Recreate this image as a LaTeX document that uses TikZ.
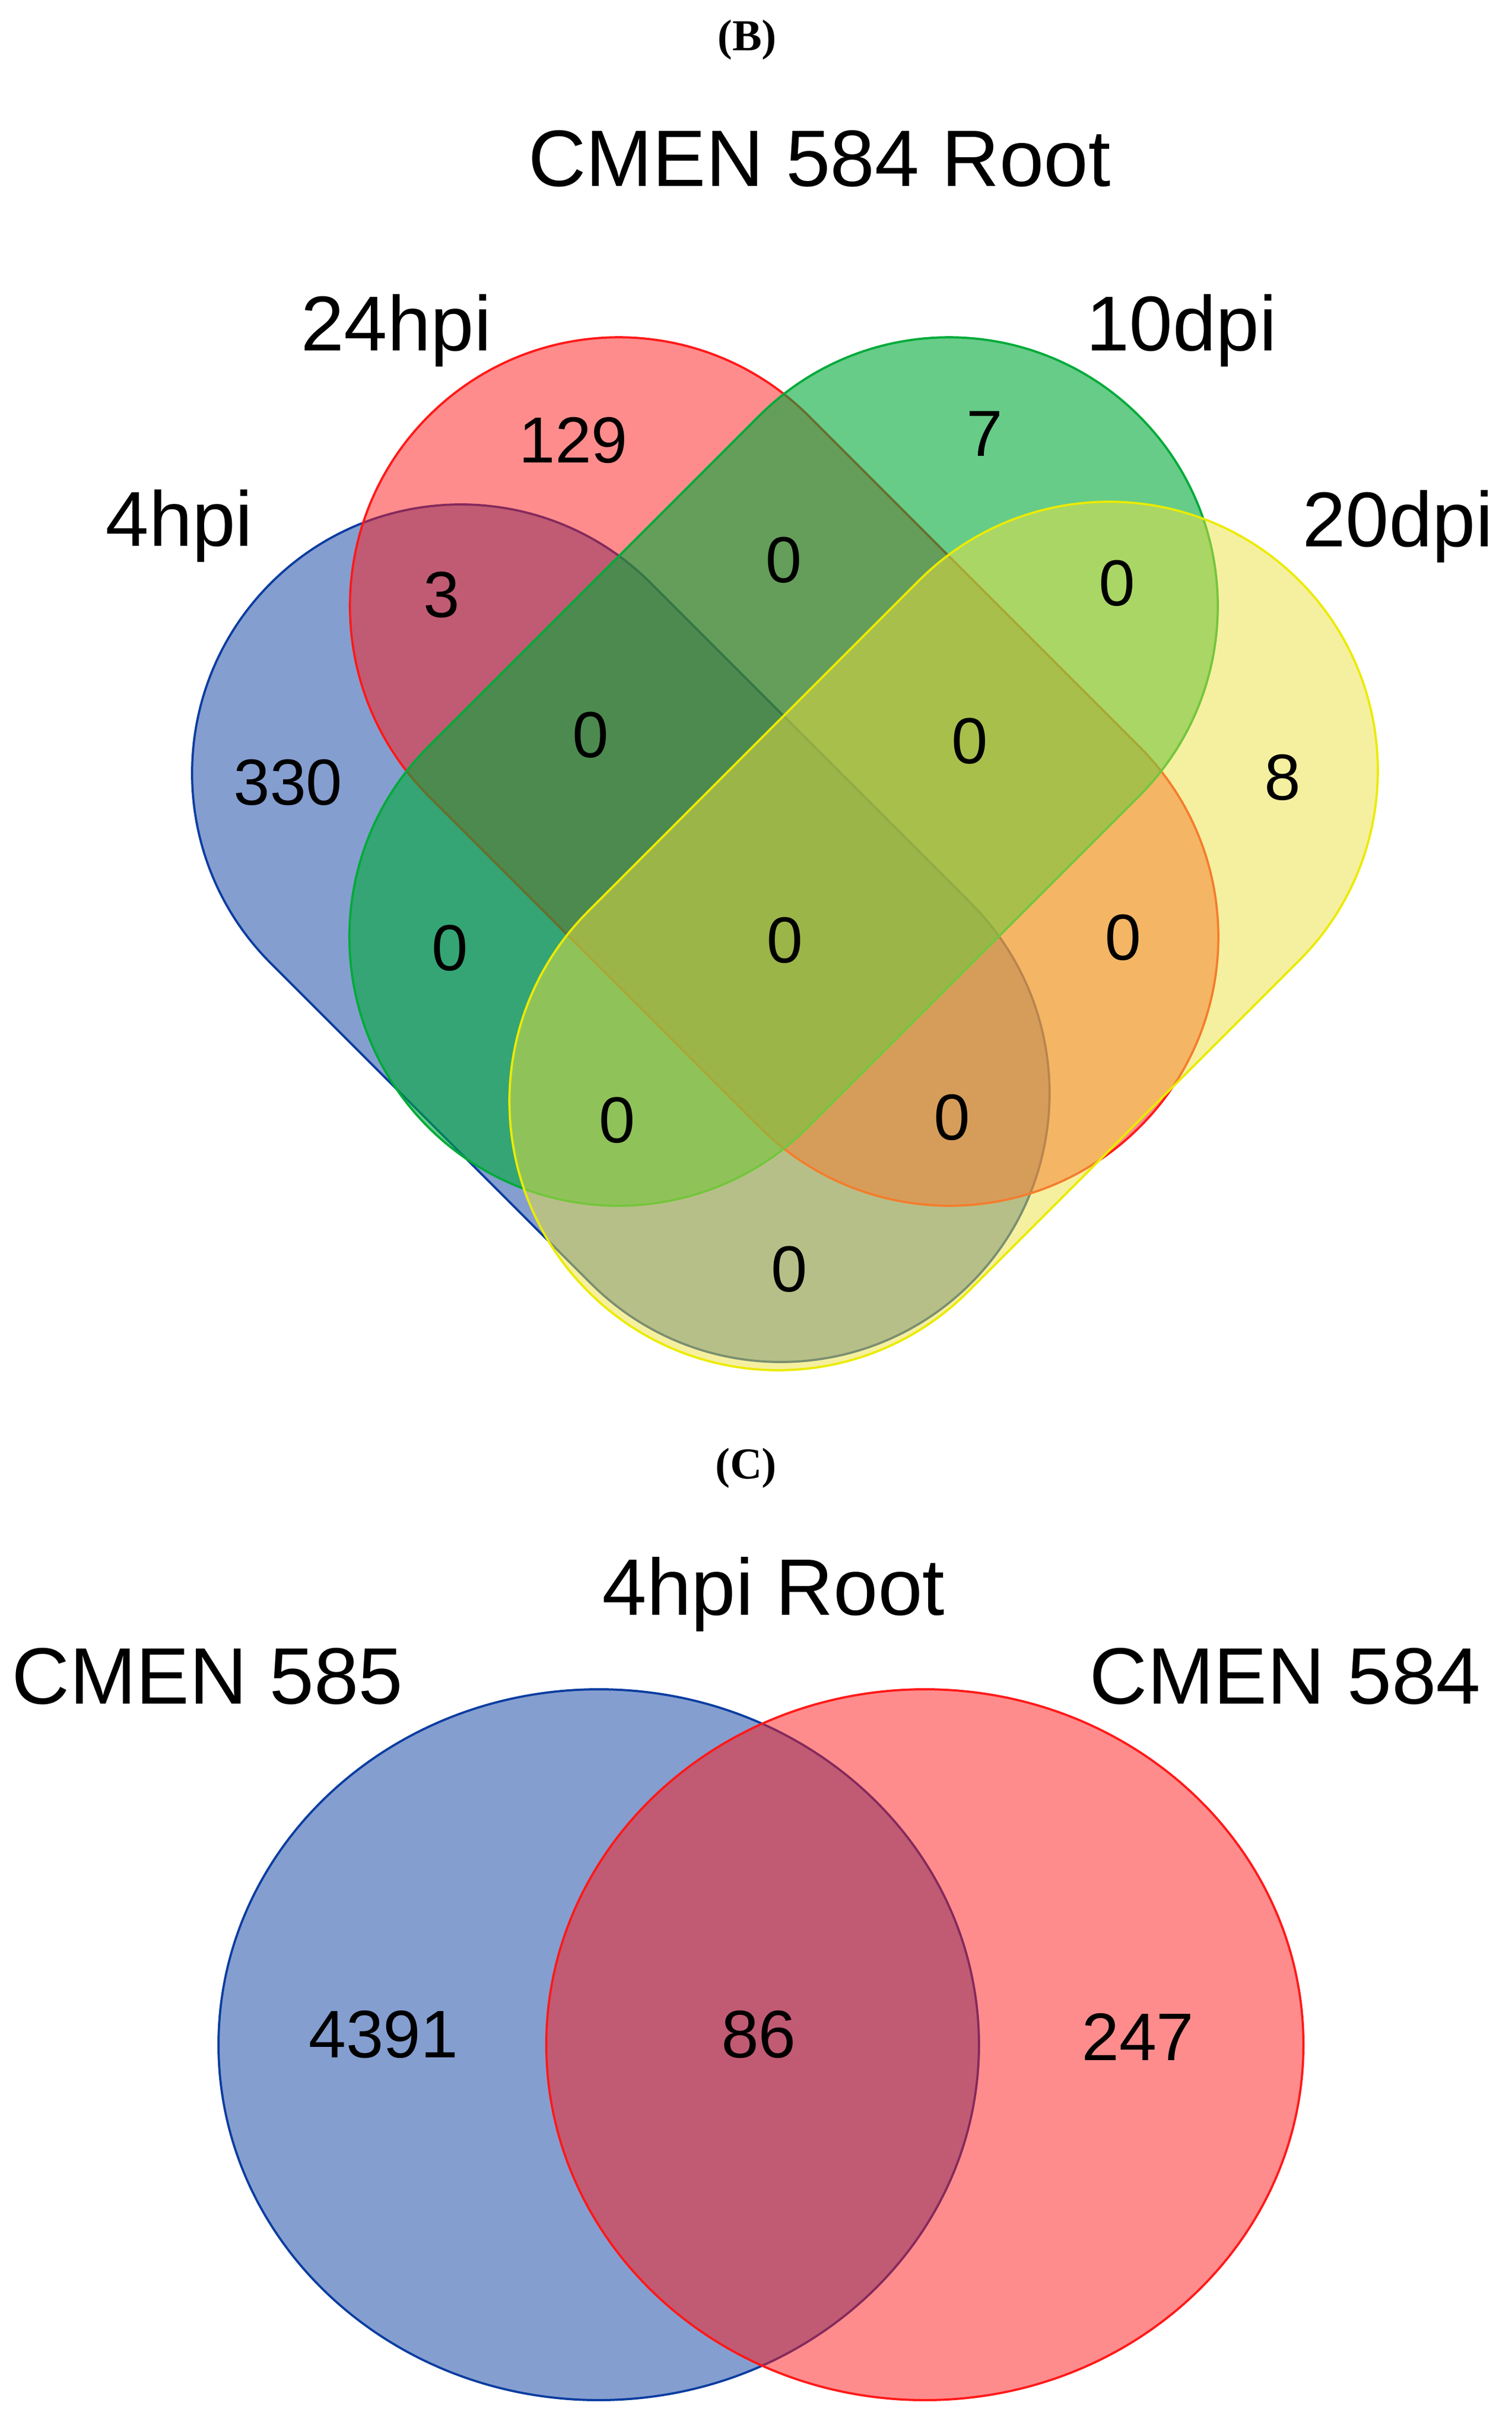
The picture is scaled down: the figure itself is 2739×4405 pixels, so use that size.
\documentclass[tikz,border=0pt]{standalone}
\usepackage{fontspec}
\setmainfont{Liberation Sans}
\newfontfamily\panelfont{Liberation Serif}
\definecolor{vblue}{RGB}{11,61,161}
\definecolor{vred}{RGB}{255,25,25}
\definecolor{vgreen}{RGB}{0,170,57}
\definecolor{vyellow}{RGB}{235,225,65}
\definecolor{yline}{RGB}{235,235,0}
\tikzset{
  pill/.style={line width=4pt, rounded corners=487pt},
  blob/.style={line width=4pt},
  count/.style={font=\fontsize{118}{120}\selectfont, inner sep=0pt},
  bigcount/.style={font=\fontsize{122}{124}\selectfont, inner sep=0pt},
  setname/.style={font=\fontsize{141}{150}\selectfont, anchor=base, inner sep=0pt},
  heading/.style={font=\fontsize{145}{150}\selectfont, anchor=base, inner sep=0pt},
  panel/.style={font=\panelfont\bfseries\fontsize{80}{84}\selectfont, inner sep=0pt}
}
\begin{document}
\begin{tikzpicture}[x=1pt, y=1pt, line join=round]
  \useasboundingbox (0,0) rectangle (2739,-4405);
  % (B) four sets
  \node[panel] (panelB) at (1354,-72) {(B)};
  \node[heading] (titleB) at (1485,-337) {CMEN 584 Root};
  \filldraw[pill, draw=vblue, fill=vblue, fill opacity=0.5, shift={(1125,-1691)}, rotate=-45] (-897,-487) rectangle (897,487);
  \filldraw[pill, draw=vred, fill=vred, fill opacity=0.5, shift={(1421,-1398)}, rotate=-45] (-911,-487) rectangle (911,487);
  \filldraw[pill, draw=vgreen, fill=vgreen, fill opacity=0.6, shift={(1420,-1398)}, rotate=45] (-911,-487) rectangle (911,487);
  \filldraw[pill, draw=yline, fill=vyellow, fill opacity=0.5, shift={(1710,-1696)}, rotate=45] (-911,-487) rectangle (911,487);
  \node[setname] (h24) at (718,-635) {24hpi};
  \node[setname] (d10) at (2141,-635) {10dpi};
  \node[setname] (h4) at (325,-989) {4hpi};
  \node[setname] (d20) at (2533,-990) {20dpi};
  \node[count] (nR) at (1039,-798) {129};
  \node[count] (nG) at (1784,-786) {7};
  \node[count] (nBR) at (800,-1078) {3};
  \node[count] (nRG) at (1420,-1015) {0};
  \node[count] (nGY) at (2024,-1057) {0};
  \node[count] (nB) at (522,-1418) {330};
  \node[count] (nBRG) at (1070,-1332) {0};
  \node[count] (nRGY) at (1757,-1343) {0};
  \node[count] (nY) at (2324,-1409) {8};
  \node[count] (nBG) at (815,-1718) {0};
  \node[count] (nall) at (1422,-1704) {0};
  \node[count] (nRY) at (2035,-1699) {0};
  \node[count] (nBGY) at (1118,-2030) {0};
  \node[count] (nBRY) at (1725,-2025) {0};
  \node[count] (nBY) at (1430,-2300) {0};
  % (C) two sets
  \node[panel] (panelC) at (1352,-2660) {(C)};
  \node[heading] (titleC) at (1402,-2926) {4hpi Root};
  \filldraw[blob, draw=vblue, fill=vblue, fill opacity=0.5] (1085,-3705) ellipse [x radius=689, y radius=644];
  \filldraw[blob, draw=vred, fill=vred, fill opacity=0.5] (1676,-3705) ellipse [x radius=686, y radius=644];
  \node[heading] (c585) at (376,-3087) {CMEN 585};
  \node[heading] (c584) at (2329,-3087) {CMEN 584};
  \node[bigcount] (n585) at (695,-3686) {4391};
  \node[bigcount] (nboth) at (1375,-3686) {86};
  \node[bigcount] (n584) at (2062,-3691) {247};
\end{tikzpicture}
\end{document}
